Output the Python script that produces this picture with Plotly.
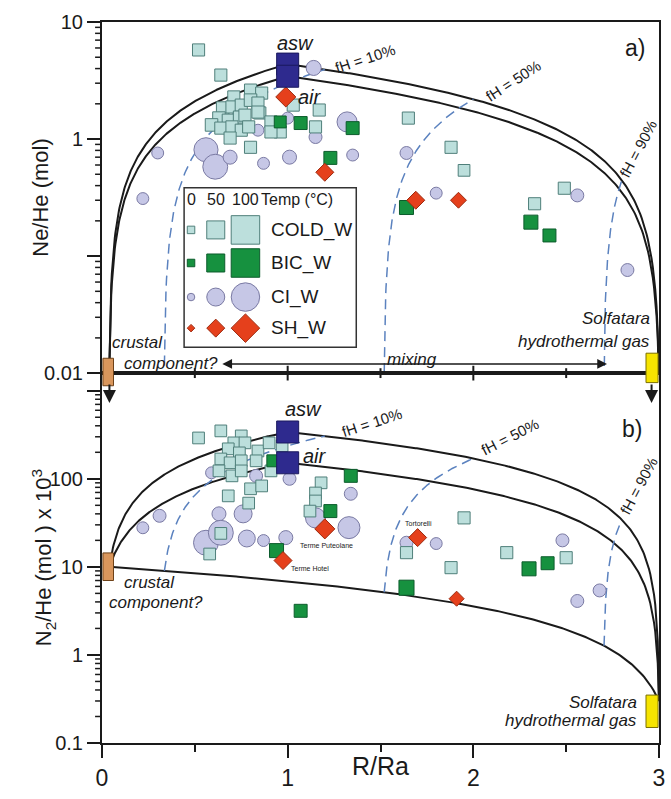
import numpy as np
import plotly.graph_objects as go

# ---------------------------------------------------------------------------
# End members of the mixing model: R/Ra, Ne/He (mol), N2/He (mol) x 10^3
CRUST = dict(r=0.04, nehe=0.012, n2he=10.0)
ASW = dict(r=1.0, nehe=4.37, n2he=340.0)
AIR = dict(r=1.0, nehe=3.44, n2he=152.0)
HYDRO = dict(r=3.0, nehe=0.008, n2he=0.3)
FH_LEVELS = [0.10, 0.50, 0.90]
FH_LABELS = ["fH = 10%", "fH = 50%", "fH = 90%"]

GROUPS = ["COLD_W", "BIC_W", "CI_W", "SH_W"]
LEGEND_TEMPS = [0, 50, 100]

# ---------------------------------------------------------------------------
# Panel a) R/Ra vs Ne/He
COLD_A_R = [0.52, 0.64, 0.71, 0.80, 0.86, 0.65, 0.70, 0.75, 0.80, 0.84, 0.85, 0.63,
            0.68, 0.74, 0.77, 0.59, 0.64, 0.70, 0.75, 0.79, 0.69, 0.80, 0.91, 0.96,
            0.91, 1.03, 1.17, 1.15, 0.84, 1.65, 1.88, 1.95, 2.49, 2.33]
COLD_A_NEHE = [5.77, 3.52, 2.29, 2.62, 2.47, 1.84, 1.88, 1.95, 2.15, 2.03, 1.67, 1.51,
               1.45, 1.54, 1.60, 1.32, 1.24, 1.27, 1.19, 1.27, 1.02, 0.85, 1.40, 1.15,
               1.15, 1.95, 1.77, 1.27, 1.70, 1.51, 0.85, 0.54, 0.38, 0.28]
COLD_A_T = [22, 22, 22, 22, 22, 24, 22, 22, 24, 22, 22, 24, 22, 22, 22, 24, 22, 22,
            22, 22, 22, 22, 22, 22, 22, 22, 22, 22, 22, 22, 22, 20, 22, 22]

CI_A_R = [0.22, 0.30, 0.56, 0.61, 0.69, 0.87, 0.84, 1.00, 1.01, 1.15, 1.32, 1.35,
          1.14, 1.64, 1.80, 2.56, 2.83]
CI_A_NEHE = [0.31, 0.76, 0.81, 0.58, 0.70, 0.62, 1.19, 1.51, 0.70, 1.04, 1.40, 0.73,
             4.05, 0.76, 0.345, 0.33, 0.076]
CI_A_T = [21, 21, 79, 83, 31, 21, 21, 21, 31, 26, 60, 21, 36, 26, 21, 26, 26]

BIC_A_R = [0.96, 1.07, 1.23, 1.35, 1.64, 2.31, 2.41]
BIC_A_NEHE = [1.40, 1.37, 0.69, 1.24, 0.26, 0.195, 0.15]
BIC_A_T = [21, 26, 26, 26, 31, 31, 26]

SH_A_R = [0.99, 1.20, 1.69, 1.92]
SH_A_NEHE = [2.29, 0.52, 0.30, 0.30]
SH_A_T = [60, 50, 50, 40]

# Panel b) R/Ra vs N2/He x 10^3
COLD_B_R = [0.52, 0.64, 0.75, 0.71, 0.77, 0.68, 0.74, 0.84, 0.90, 0.64, 0.69, 0.75,
            0.83, 0.63, 0.70, 0.75, 0.91, 0.97, 0.80, 0.86, 0.68, 0.79, 0.64, 0.58,
            1.18, 1.15, 1.15, 1.12, 1.95, 1.64, 1.88, 2.18, 2.50]
COLD_B_N2HE = [291, 350, 307, 256, 256, 219, 197, 207, 256, 168, 152, 160, 160, 123,
               108, 123, 123, 237, 77, 83, 64, 53, 24, 14, 90, 69, 56, 43, 36, 14.5,
               9.8, 14.5, 12.7]
COLD_B_T = [20, 20, 20, 20, 20, 20, 20, 20, 20, 20, 20, 20, 20, 20, 20, 20, 20, 20,
            20, 20, 20, 20, 20, 20, 20, 20, 20, 20, 22, 22, 22, 22, 22]

CI_B_R = [0.22, 0.31, 0.59, 0.83, 1.01, 0.63, 0.76, 0.56, 0.64, 0.78, 0.87, 0.99,
          1.34, 1.15, 1.33, 1.64, 1.80, 2.48, 2.68, 2.56]
CI_B_N2HE = [27.8, 38, 117, 108, 100, 40, 40, 18.8, 24.4, 21, 19.9, 21.5, 67.6, 36,
             27.9, 18.8, 18.4, 20, 5.4, 4.1]
CI_B_T = [21, 26, 21, 26, 26, 31, 50, 83, 83, 45, 21, 31, 26, 60, 69, 26, 21, 26, 26, 26]

BIC_B_R = [0.92, 1.34, 1.23, 0.94, 1.07, 1.64, 2.30, 2.40]
BIC_B_N2HE = [160, 108, 43, 15.3, 3.17, 5.8, 9.5, 11]
BIC_B_T = [21, 26, 26, 31, 26, 36, 31, 26]

SH_B_R = [1.20, 0.975, 1.70, 1.91]
SH_B_N2HE = [27, 11.8, 21.5, 4.35]
SH_B_T = [60, 50, 50, 36]
SH_B_NAMES = ["Terme Puteolane", "Terme Hotel", "Tortorelli", ""]

# ---------------------------------------------------------------------------
FONT = "Liberation Sans, Arial, sans-serif"
INK = "#1a1a1a"
STYLE = {
    "COLD_W": dict(symbol="square", fill="#bcdfdc", line="#4f7f7a"),
    "BIC_W": dict(symbol="square", fill="#16913f", line="#0c5c2c"),
    "CI_W": dict(symbol="circle", fill="#c6c7e6", line="#7a7aa3"),
    "SH_W": dict(symbol="diamond", fill="#e5401c", line="#9c2a0f"),
}
ATM_FILL, ATM_LINE = "#2e2a8e", "#1b195e"

Y_SPLIT = 0.513          # boundary between the two panels (paper fraction)
A_RANGE = [-2, 1]        # log10 range, panel a
B_RANGE = [-1, 3.2]      # log10 range, panel b
PLOT_W = 671 - 102 - 6   # plot-area width in px, used for tick lengths


def marker_size(temps, symbol):
    """Marker size grows linearly with water temperature."""
    px = 7.5 + 0.21 * np.asarray(temps, dtype=float)
    return px / 1.3 if symbol == "diamond" else px


def mix_line(a, b, key, n=300):
    f = np.linspace(0.0, 1.0, n)
    return a["r"] + f * (b["r"] - a["r"]), a[key] + f * (b[key] - a[key])


def blend(a, b, w):
    return {k: (1 - w) * a[k] + w * b[k] for k in a}


def ydom(v, rng):
    return float((np.log10(v) - rng[0]) / (rng[1] - rng[0]))


def log_minor_vals(rng):
    vals = []
    for e in range(int(np.floor(rng[0])), int(np.ceil(rng[1])) + 1):
        vals += [m * 10.0 ** e for m in range(2, 10)]
    return [v for v in vals if rng[0] <= np.log10(v) <= rng[1]]


fig = go.Figure()

# mixing curves and fH iso-lines
for key, xa, ya in (("nehe", "x", "y"), ("n2he", "x2", "y2")):
    for atm in (ASW, AIR):
        r1, v1 = mix_line(CRUST, atm, key)
        r2, v2 = mix_line(atm, HYDRO, key)
        fig.add_trace(go.Scatter(x=np.r_[r1, r2], y=np.r_[v1, v2], mode="lines",
                                 line=dict(color=INK, width=2), xaxis=xa, yaxis=ya,
                                 hoverinfo="skip", showlegend=False))
    if key == "n2he":
        r, v = mix_line(CRUST, HYDRO, key)
        fig.add_trace(go.Scatter(x=r, y=v, mode="lines", line=dict(color=INK, width=2),
                                 xaxis=xa, yaxis=ya, hoverinfo="skip", showlegend=False))
    for h in FH_LEVELS:
        r, v = mix_line(blend(CRUST, HYDRO, h), blend(ASW, HYDRO, h), key)
        fig.add_trace(go.Scatter(x=r, y=v, mode="lines",
                                 line=dict(color="#5b82bf", width=1.5, dash="10px,6px"),
                                 xaxis=xa, yaxis=ya, hoverinfo="skip", showlegend=False))

# samples
panels = [
    ("x", "y", {"CI_W": (CI_A_R, CI_A_NEHE, CI_A_T),
                "COLD_W": (COLD_A_R, COLD_A_NEHE, COLD_A_T),
                "BIC_W": (BIC_A_R, BIC_A_NEHE, BIC_A_T),
                "SH_W": (SH_A_R, SH_A_NEHE, SH_A_T)}),
    ("x2", "y2", {"CI_W": (CI_B_R, CI_B_N2HE, CI_B_T),
                  "COLD_W": (COLD_B_R, COLD_B_N2HE, COLD_B_T),
                  "BIC_W": (BIC_B_R, BIC_B_N2HE, BIC_B_T),
                  "SH_W": (SH_B_R, SH_B_N2HE, SH_B_T)}),
]
for xa, ya, data in panels:
    for g, (r, v, t) in data.items():
        st = STYLE[g]
        fig.add_trace(go.Scatter(
            x=r, y=v, mode="markers", xaxis=xa, yaxis=ya, name=g, showlegend=False,
            marker=dict(symbol=st["symbol"], size=marker_size(t, st["symbol"]),
                        color=st["fill"], opacity=1,
                        line=dict(color=st["line"], width=1))))

# atmospheric end members
for xa, ya, key in (("x", "y", "nehe"), ("x2", "y2", "n2he")):
    fig.add_trace(go.Scatter(
        x=[ASW["r"], AIR["r"]], y=[ASW[key], AIR[key]], mode="markers",
        xaxis=xa, yaxis=ya, showlegend=False,
        marker=dict(symbol="square", size=22, color=ATM_FILL, opacity=1,
                    line=dict(color=ATM_LINE, width=1))))

# legend drawn on its own small axes
LEG_COLS = [7, 32, 62]
LEG_ROWS = [42, 75, 109, 140]
for g, row in zip(GROUPS, LEG_ROWS):
    st = STYLE[g]
    fig.add_trace(go.Scatter(
        x=LEG_COLS, y=[row] * 3, mode="markers", xaxis="x3", yaxis="y3",
        showlegend=False, hoverinfo="skip",
        marker=dict(symbol=st["symbol"], size=marker_size(LEGEND_TEMPS, st["symbol"]),
                    color=st["fill"], opacity=1, line=dict(color=st["line"], width=1))))

ann = []


def text(x, y, s, xref="x", yref="y", size=17, log=True, **kw):
    ann.append(dict(x=x, y=float(np.log10(y)) if log else y, xref=xref, yref=yref,
                    text=s, showarrow=False,
                    font=dict(family=FONT, size=size, color=INK), **kw))


# panel a labels
text(1.044, 6.6, "<i>asw</i>", size=20)
text(1.119, 2.27, "<i>air</i>", size=20)
text(2.872, 5.98, "a)", size=23)
text(0.043, 0.0181, "<i>crustal</i>", xanchor="left")
text(0.107, 0.0122, "<i>component?</i>", xanchor="left")
text(1.524, 0.0132, "<i>mixing</i>", xanchor="left")
text(2.962, 0.0291, "<i>Solfatara</i>", xanchor="right")
text(2.962, 0.0188, "<i>hydrothermal gas</i>", xanchor="right")
for (x, y, ang), s in zip([(1.417, 4.91, -18), (2.216, 3.18, -33), (2.888, 0.83, -62)],
                          FH_LABELS):
    text(x, y, s, size=15, textangle=ang)

# panel b labels
text(1.087, 624, "<i>asw</i>", xref="x2", yref="y2", size=20)
text(1.145, 182, "<i>air</i>", xref="x2", yref="y2", size=20)
text(2.856, 370, "b)", xref="x2", yref="y2", size=23)
text(0.107, 6.6, "<i>crustal</i>", xref="x2", yref="y2", xanchor="left")
text(0.027, 3.91, "<i>component?</i>", xref="x2", yref="y2", xanchor="left")
text(2.893, 0.287, "<i>Solfatara</i>", xref="x2", yref="y2", xanchor="right")
text(2.893, 0.179, "<i>hydrothermal gas</i>", xref="x2", yref="y2", xanchor="right")
for (x, y, ang), s in zip([(1.454, 432, -18), (2.200, 300, -27), (2.893, 83, -62)],
                          FH_LABELS):
    text(x, y, s, xref="x2", yref="y2", size=15, textangle=ang)

for r, v, name, (dx, dy) in zip(SH_B_R, SH_B_N2HE, SH_B_NAMES,
                                [(2, -17), (27, -8), (1, 14), (0, 0)]):
    if name:
        text(r, v, name, xref="x2", yref="y2", size=7, xshift=dx, yshift=dy)

# legend texts
for x, s in zip(LEG_COLS, LEGEND_TEMPS):
    text(x, 12, str(s), xref="x3", yref="y3", size=16, log=False)
text(76, 12, "Temp (°C)", xref="x3", yref="y3", size=16, log=False, xanchor="left")
for g, row in zip(GROUPS, LEG_ROWS):
    text(86, row, g, xref="x3", yref="y3", size=19, log=False, xanchor="left")

# axis titles
ann.append(dict(x=-0.137, y=0.5, xref="paper", yref="y domain", text="Ne/He (mol)",
                textangle=-90, showarrow=False, font=dict(family=FONT, size=22, color=INK)))
ann.append(dict(x=-0.137, y=0.5, xref="paper", yref="y2 domain",
                text="N<sub>2</sub>/He (mol ) x 10<sup>3</sup>",
                textangle=-90, showarrow=False, font=dict(family=FONT, size=22, color=INK)))
ann.append(dict(x=0.5, y=-0.054, xref="x2 domain", yref="paper", text="R/Ra",
                showarrow=False, font=dict(family=FONT, size=25, color=INK)))

# mixing arrow and downward arrows between the panels
MIX_Y = float(np.log10(0.01197))
ann.append(dict(x=2.72, y=MIX_Y, ax=0.64, ay=MIX_Y, xref="x", yref="y", axref="x",
                ayref="y", text="", showarrow=True, arrowhead=2, arrowside="end+start",
                arrowsize=1.3, arrowwidth=1.5, arrowcolor=INK))
for xr in (CRUST["r"], 2.96):
    ann.append(dict(x=xr, y=0.919, xref="x2", yref="y2 domain", ax=0, ay=-20,
                    text="", showarrow=True, arrowhead=2, arrowsize=1.3, arrowwidth=2,
                    arrowcolor=INK))

shapes = []
# crossing ticks on the shared axis line of panel a
for v in (0.5, 1.0, 1.5, 2.0, 2.5):
    half = 0.021 if float(v).is_integer() else 0.014
    shapes.append(dict(type="line", xref="x", yref="y domain", x0=v, x1=v,
                       y0=-half, y1=half, line=dict(color=INK, width=2)))
# minor ticks of the two log axes
for rng, yd, xd in ((A_RANGE, "y domain", "x domain"), (B_RANGE, "y2 domain", "x2 domain")):
    for v in log_minor_vals(rng):
        f = ydom(v, rng)
        shapes.append(dict(type="line", xref=xd, yref=yd, x0=-7.0 / PLOT_W, x1=0,
                           y0=f, y1=f, line=dict(color=INK, width=1.5)))
# end-member boxes
for (x0, x1, lo, hi, rng, yref, fill, edge) in [
    (0.005, 0.062, 0.0078, 0.0134, A_RANGE, "y domain", "#d9965c", "#6e4219"),
    (0.005, 0.062, 7.0, 14.4, B_RANGE, "y2 domain", "#d9965c", "#6e4219"),
    (2.93, 2.995, 0.0083, 0.0148, A_RANGE, "y domain", "#f6e400", "#7c7000"),
    (2.93, 2.995, 0.15, 0.35, B_RANGE, "y2 domain", "#f6e400", "#7c7000"),
]:
    shapes.append(dict(type="rect", xref="x" if yref == "y domain" else "x2", yref=yref,
                       x0=x0, x1=x1, y0=ydom(lo, rng), y1=ydom(hi, rng),
                       fillcolor=fill, line=dict(color=edge, width=1), layer="above"))
# legend frame
shapes.append(dict(type="rect", xref="x3 domain", yref="y3 domain", x0=0, x1=1, y0=0,
                   y1=1, line=dict(color="#333333", width=1.5), fillcolor="rgba(0,0,0,0)"))

frame = dict(showline=True, linecolor=INK, linewidth=2, mirror=True, showgrid=False,
             zeroline=False)
tickf = dict(family=FONT, size=20, color=INK)

fig.update_layout(
    width=671, height=799, margin=dict(l=102, r=6, t=22, b=56),
    paper_bgcolor="white", plot_bgcolor="white", showlegend=False,
    font=dict(family=FONT, color=INK),
    xaxis=dict(domain=[0, 1], range=[0, 3], anchor="y", showticklabels=False, ticks="",
               **frame),
    yaxis=dict(domain=[Y_SPLIT, 1], type="log", range=A_RANGE, anchor="x", dtick=1,
               ticks="outside", ticklen=13, tickwidth=2, tickcolor=INK,
               exponentformat="none", labelalias={"0.1": " "}, tickfont=tickf, **frame),
    xaxis2=dict(domain=[0, 1], range=[0, 3], anchor="y2", dtick=1, ticks="outside",
                ticklen=13, tickwidth=2, tickcolor=INK,
                tickfont=dict(family=FONT, size=23, color=INK),
                minor=dict(dtick=0.5, ticks="outside", ticklen=7, tickwidth=1.5,
                           tickcolor=INK, showgrid=False), **frame),
    yaxis2=dict(domain=[0, Y_SPLIT], type="log", range=B_RANGE, anchor="x2", dtick=1,
                ticks="outside", ticklen=13, tickwidth=2, tickcolor=INK,
                exponentformat="none", labelalias={"1000": " "}, tickfont=tickf, **frame),
    xaxis3=dict(domain=[0.1474, 0.4565], range=[0, 174], anchor="y3", visible=False),
    yaxis3=dict(domain=[0.549, 0.770], range=[159, 0], anchor="x3", visible=False),
    annotations=ann, shapes=shapes,
)

fig.write_html("out.html")
